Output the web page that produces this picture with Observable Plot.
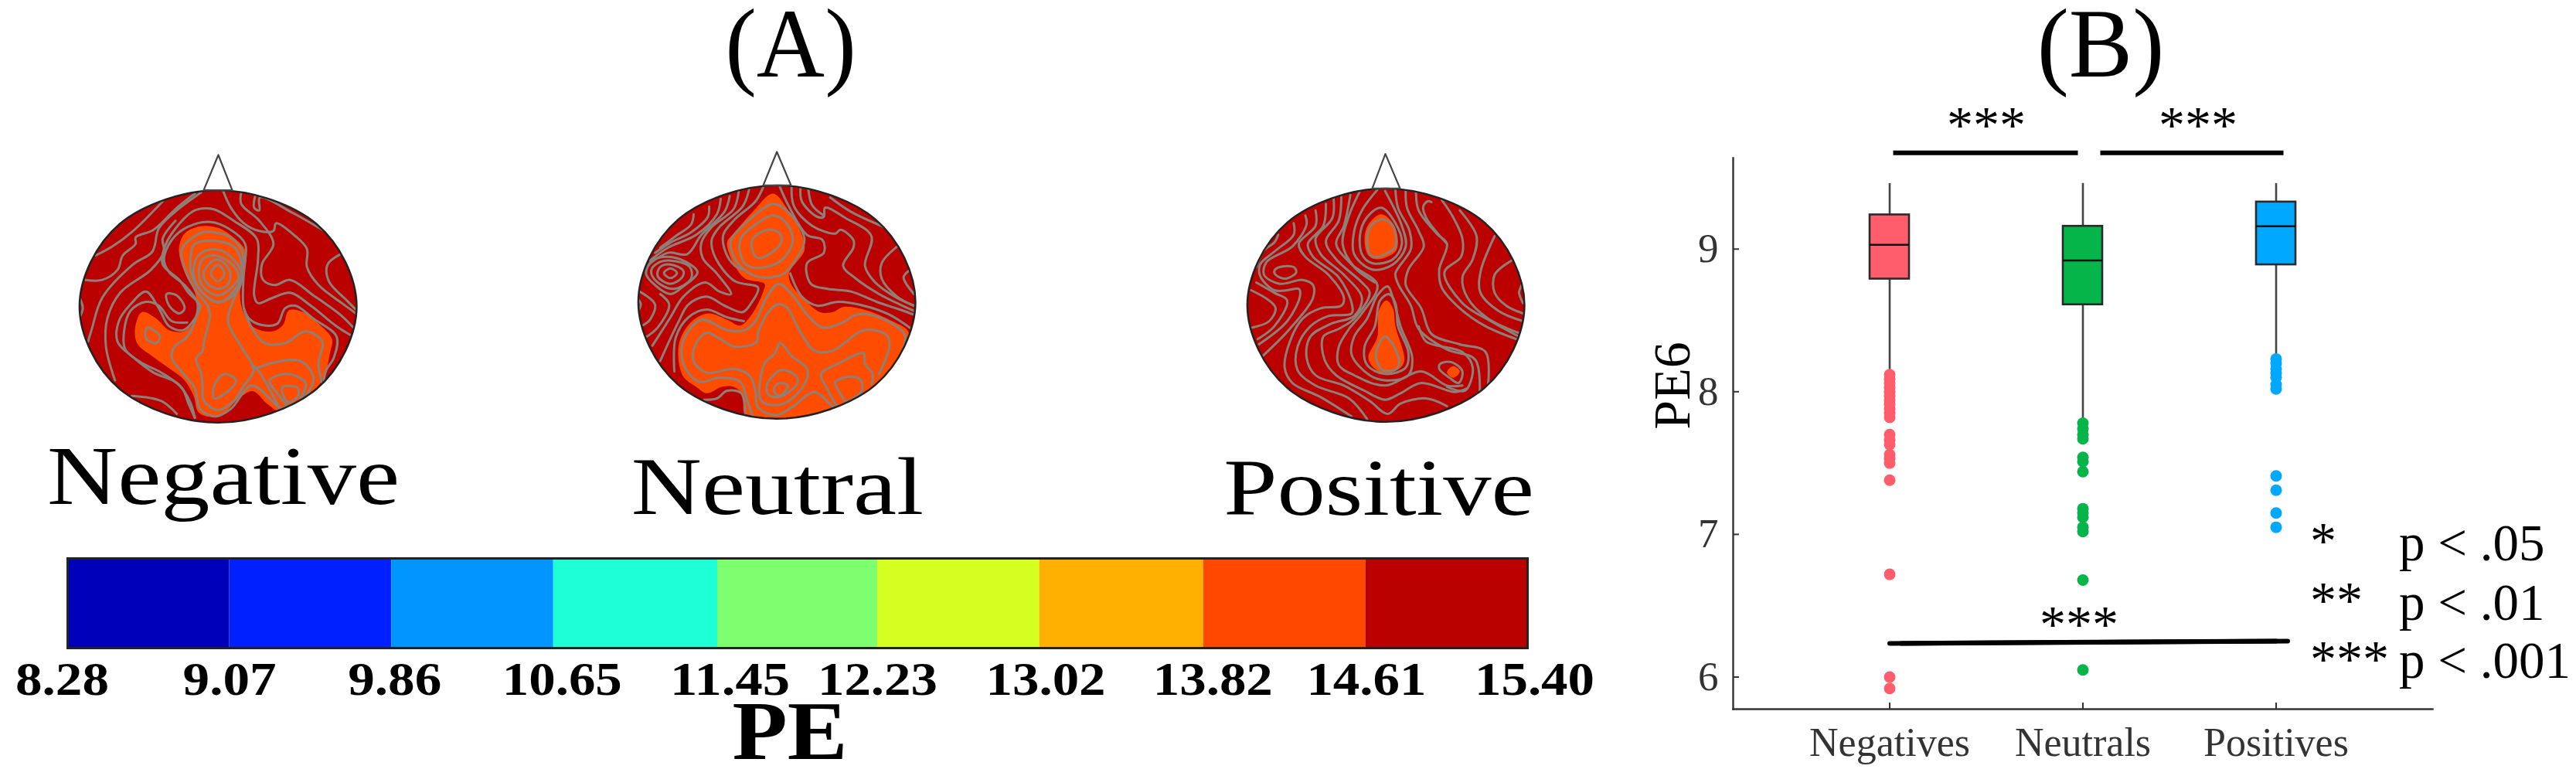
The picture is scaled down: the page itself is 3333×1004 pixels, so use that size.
<!DOCTYPE html>
<html>
<head>
<meta charset="utf-8">
<script src="https://cdn.jsdelivr.net/npm/d3@7"></script>
<script src="https://cdn.jsdelivr.net/npm/@observablehq/plot@0.6"></script>
<style>
html,body{margin:0;padding:0;background:#fff;}
#page{position:relative;width:3333px;height:1004px;overflow:hidden;font-family:"Liberation Serif",serif;color:#000;}
.lab{position:absolute;white-space:nowrap;line-height:0;height:0;}
</style>
</head>
<body>
<div id="page"></div>
<script>
// ---------- Panel B: boxplot values (PE6) ----------
const categories = ["Negatives", "Neutrals", "Positives"];
const boxColors = ["#FF5C6C", "#06B54A", "#00A8FF"];
const whiskerHigh = [9.46, 9.46, 9.46];
const q3 = [9.24, 9.16, 9.33];
const medians = [9.03, 8.92, 9.16];
const q1 = [8.79, 8.61, 8.89];
const whiskerLow = [8.15, 7.8, 8.25];
const negativeOutliers = [8.12, 8.09, 8.06, 8.03, 8.0, 7.97, 7.94, 7.91, 7.88, 7.85, 7.82, 7.7, 7.66, 7.63, 7.56, 7.53, 7.5, 7.38, 6.72, 6.0, 5.92];
const neutralOutliers = [7.78, 7.74, 7.7, 7.67, 7.54, 7.51, 7.44, 7.18, 7.15, 7.12, 7.05, 7.02, 6.68, 6.05];
const positiveOutliers = [8.23, 8.2, 8.16, 8.13, 8.1, 8.05, 8.02, 7.41, 7.31, 7.15, 7.05];
const yTicks = [6, 7, 8, 9];
const bracketNegNeu = 9.675;
const bracketNeuPos = 9.675;
const bracketNegPos = [6.236, 6.252];

// ---------- Panel A: colour bar ----------
const peLabels = ["8.28", "9.07", "9.86", "10.65", "11.45", "12.23", "13.02", "13.82", "14.61", "15.40"];
const peColors = ["#0000BB", "#0020FF", "#0095FF", "#1FFFD6", "#7DFF70", "#D4FF20", "#FFB000", "#FF4800", "#BB0000"];
const peLabelNudge = [-7, 0, 4, 11, 16, 0, 8, 12, 1, 9];

// ---------- Panel A: scalp maps, traced in map units ----------
const scalpRing = [[1,0],[.92,.38],[.71,.71],[.38,.92],[0,1],[-.38,.92],[-.71,.71],[-.92,.38],[-1,0],[-.92,-.38],[-.71,-.71],[-.38,-.92],[0,-1],[.38,-.92],[.71,-.71],[.92,-.38]];

const negOrange = [[490,172],[560,178],[620,215],[665,265],[665,350],[645,430],[660,510],[700,565],[770,580],[812,555],[835,498],[890,505],[950,550],[1002,610],[995,660],[965,770],[880,850],[800,890],[750,860],[695,812],[640,840],[590,890],[540,912],[485,895],[465,830],[430,770],[380,730],[310,680],[245,625],[240,555],[265,505],[320,530],[370,575],[430,578],[480,515],[470,430],[430,350],[408,262],[430,200]];
const negLoops = [
 [[560,322],[585,355],[560,385],[532,355]],
 [[555,300],[605,345],[600,395],[560,415],[515,390],[505,350]],
 [[545,285],[615,320],[640,370],[600,420],[560,440],[505,410],[485,355],[500,300]],
 [[530,262],[590,275],[650,350],[625,420],[560,468],[500,430],[465,360],[480,290]],
 [[470,240],[560,230],[625,255],[655,350],[630,430],[560,465],[490,420],[455,350],[455,280]],
 [[500,195],[540,195],[600,210],[650,260],[655,350],[630,430],[600,515],[600,550],[650,640],[698,730],[660,790],[620,850],[560,885],[505,850],[500,800],[495,745],[475,685],[500,655],[505,620],[528,520],[520,480],[480,430],[440,360],[420,260]],
 [[360,435],[400,440],[430,490],[410,510],[370,480]],
 [[285,565],[335,600],[320,625],[280,605]],
 [[810,795],[870,800],[870,830],[835,855],[810,820]],
 [[545,790],[585,745],[630,770],[600,810],[545,840]]
];
const negLines = [
 [[965,790],[950,700],[965,620],[900,580],[820,625],[740,625],[700,580],[660,490],[660,345],[665,240],[600,180],[530,155],[440,175],[380,225],[350,300],[370,350],[430,400],[480,470],[470,540],[440,600],[390,640],[380,680],[430,750],[470,800],[490,880],[550,910],[610,880],[690,790],[770,850],[800,880]],
 [[1085,600],[1020,560],[920,480],[840,430],[770,450],[715,470],[700,440],[715,300],[710,220],[620,150],[540,105],[470,110],[395,180],[350,260],[345,320],[410,380],[445,430],[490,480],[470,530],[425,575],[370,560],[330,490],[280,425],[220,475],[175,540],[170,620],[230,680],[310,740],[400,780],[450,850],[470,915]],
 [[660,490],[680,530],[730,555],[790,550],[820,490],[860,480],[930,530],[1020,600],[1010,680],[980,730],[970,770]],
 [[580,35],[610,100],[660,160],[720,190],[775,190],[785,160],[860,210],[905,260],[905,330],[950,400],[1040,470],[1095,510]],
 [[650,40],[650,85],[720,150],[775,240],[730,320],[735,380],[780,400],[840,380],[930,440],[1040,520],[1090,570]],
 [[705,50],[700,100],[720,110],[722,60],[850,120],[980,195]],
 [[1035,280],[985,320],[990,385],[1060,460],[1095,495]],
 [[345,75],[230,190],[150,250],[85,285]],
 [[470,45],[400,100],[310,185],[240,215],[240,240],[190,285],[170,340],[110,380],[45,380]],
 [[495,40],[400,110],[330,180],[305,270],[230,320],[110,450],[70,570],[55,620]],
 [[395,150],[345,220],[350,270],[300,340],[180,430],[130,530],[125,640],[160,770]],
 [[440,545],[380,540],[330,480],[280,465],[220,500],[195,580],[200,650],[260,700],[340,740],[420,800],[445,860],[470,915]],
 [[705,725],[780,700],[880,695],[930,760],[890,840],[800,880]],
 [[830,870],[790,820],[760,770],[830,745],[900,780],[880,840]],
 [[695,710],[715,730],[800,880]],
 [[225,830],[340,850],[400,900]],
 [[25,455],[35,490],[25,520]]
];

const neuOrange = [[548,60],[610,130],[660,220],[670,280],[610,370],[620,415],[670,470],[730,520],[780,520],[820,500],[900,510],[1000,550],[1075,600],[1040,690],[960,790],[850,880],[700,925],[560,930],[440,915],[430,840],[395,810],[350,810],[290,835],[250,810],[200,770],[180,690],[190,620],[240,550],[300,525],[370,550],[420,572],[465,530],[510,440],[515,410],[440,390],[400,340],[370,250],[400,210],[470,130]];
const neuLoops = [
 [[530,200],[575,215],[580,250],[540,290],[490,310],[468,280],[470,235]],
 [[550,145],[600,175],[625,240],[590,310],[520,345],[450,340],[420,290],[425,230],[480,180]],
 [[550,100],[600,125],[670,235],[640,310],[590,370],[500,385],[430,350],[390,290],[385,240],[470,150]],
 [[150,350],[175,368],[150,388],[125,368]],
 [[150,335],[200,360],[195,385],[150,410],[100,380],[110,345]],
 [[150,320],[225,345],[230,390],[160,430],[95,400],[75,360],[100,330]],
 [[140,305],[210,325],[255,365],[200,420],[150,450],[90,415],[55,370],[80,320]],
 [[575,640],[620,690],[680,740],[670,800],[600,870],[540,880],[500,860],[515,720],[555,680]],
 [[580,745],[640,770],[640,800],[570,850],[530,840],[525,800]],
 [[575,795],[605,805],[575,845],[553,830],[555,810]]
];
const neuLines = [
 [[240,140],[230,180],[170,225],[110,270]],
 [[300,110],[295,150],[230,210],[150,250],[90,290]],
 [[345,80],[330,140],[250,220],[140,270],[70,320]],
 [[380,70],[360,130],[270,220],[215,295],[140,290],[60,340]],
 [[415,50],[395,120],[310,190],[270,250],[275,310],[330,370],[385,450],[340,440],[285,405],[200,460],[150,540],[80,650]],
 [[455,45],[430,110],[340,190],[310,240],[325,310],[400,400],[490,425],[460,490],[430,520],[360,495],[290,460],[220,490],[180,560],[110,710]],
 [[510,35],[480,90],[400,160],[355,220],[365,290],[400,340],[430,355]],
 [[30,440],[90,490],[70,550],[45,570]],
 [[110,450],[145,490],[100,580],[50,620]],
 [[435,555],[370,540],[290,510],[220,540],[170,620],[165,750]],
 [[1020,770],[1040,700],[1060,610],[960,540],[870,530],[820,560],[740,580],[680,530],[620,450],[570,410],[520,470],[480,555],[440,590],[370,590],[270,550],[200,630],[200,720],[260,790],[340,775],[420,790],[450,870],[470,925]],
 [[960,760],[1000,650],[990,610],[900,590],[780,670],[710,670],[650,590],[600,500],[565,490],[530,520],[490,600],[485,635],[400,655],[345,625],[290,600],[245,650],[240,710],[290,755],[400,740],[460,770],[480,830],[490,890],[560,920],[620,890],[710,830],[780,885],[800,890]],
 [[830,885],[800,885],[760,820],[735,760],[800,720],[900,680],[905,720],[935,760],[930,800]],
 [[830,870],[790,800],[790,790],[850,770],[890,785],[890,830],[830,870]],
 [[575,35],[610,110],[680,220],[740,240],[745,290],[680,330],[695,410],[760,430],[850,440],[950,480],[1040,510],[1095,530]],
 [[620,35],[630,110],[700,185],[790,215],[810,200],[860,240],[860,270],[820,340],[870,390],[960,450],[1040,490],[1095,515]],
 [[655,35],[660,90],[720,150],[745,150],[750,115],[830,155],[930,225],[905,340],[940,400],[1020,460],[1095,495]],
 [[685,40],[700,105],[745,145]],
 [[770,75],[850,130],[980,190]],
 [[1030,265],[970,330],[970,390],[1030,460],[1095,495]],
 [[1095,450],[1055,385],[1075,360]],
 [[280,860],[330,855],[370,825],[425,835],[440,915]],
 [[615,370],[660,460],[720,495],[800,480],[900,495],[1000,530],[1085,585]],
 [[25,470],[35,490],[28,510]]
];

const posOrange = [
 [[545,125],[590,160],[610,230],[600,270],[530,300],[495,285],[480,220],[495,165]],
 [[565,460],[590,490],[600,560],[635,690],[620,720],[560,745],[515,720],[495,680],[530,600],[535,500]],
 [[825,715],[850,735],[825,760],[800,738]]
];
const posLoops = [
 [[550,145],[590,170],[600,250],[570,275],[510,290],[490,240],[505,170]],
 [[560,600],[590,630],[615,700],[605,725],[550,730],[525,680],[535,630]],
 [[150,330],[205,330],[215,350],[175,375],[135,360],[130,345]],
 [[820,700],[860,735],[845,780],[810,760],[770,725],[775,705]],
 [[545,100],[600,160],[625,240],[590,300],[510,315],[470,280],[465,190],[500,125]],
 [[570,405],[590,450],[620,560],[665,680],[650,750],[570,770],[500,750],[430,670],[440,600],[490,530],[530,440]],
 [[575,435],[600,470],[610,560],[650,660],[640,720],[560,745],[490,710],[480,640],[520,560],[540,460]]
];
const posLines = [
 [[530,30],[470,110],[440,190],[440,280],[510,340],[590,320],[640,250],[625,170],[560,35]],
 [[600,30],[610,100],[655,190],[660,260],[600,355],[610,395],[660,480],[690,570],[800,650],[910,690],[925,860]],
 [[640,30],[645,100],[690,190],[710,250],[650,340],[640,400],[700,490],[740,590],[850,630],[950,660],[955,830]],
 [[680,40],[690,110],[760,200],[800,240],[770,340],[780,410],[850,490],[950,560],[1070,610]],
 [[740,78],[725,75],[708,95],[720,140],[800,240]],
 [[780,70],[820,130],[860,220],[855,290],[790,350],[860,470],[970,540],[1080,600]],
 [[850,110],[915,210],[900,300],[860,370],[880,450],[960,530],[1090,590]],
 [[985,210],[930,350],[930,430],[1000,500],[1095,540]],
 [[1050,305],[985,360],[985,430],[1030,480],[1095,510]],
 [[1090,400],[1080,430],[1095,470]],
 [[145,205],[130,235],[90,265],[60,330]],
 [[205,160],[205,205],[130,270],[75,320],[75,365],[130,420],[180,420],[225,415],[230,440],[180,540],[70,630]],
 [[250,130],[255,165],[200,250],[100,310],[90,360],[150,395],[240,380],[280,400],[280,450],[190,570],[80,680]],
 [[290,110],[290,170],[225,240],[250,290],[340,360],[400,450],[390,480],[310,490],[240,530],[190,620],[170,720],[200,780],[310,835],[430,910]],
 [[330,85],[320,170],[260,240],[280,290],[380,370],[430,470],[430,510],[340,520],[270,560],[220,640],[220,730],[290,790],[420,840],[490,920]],
 [[360,65],[355,140],[290,220],[310,280],[400,360],[470,450],[440,520],[350,550],[270,600],[255,680],[290,750],[400,790],[500,850],[570,900],[620,860],[720,840],[800,870]],
 [[390,55],[380,150],[330,230],[370,300],[470,390],[500,430],[440,530],[380,570],[320,600],[325,690],[370,750],[480,810],[560,845],[620,820],[700,780],[830,815],[880,800]],
 [[425,50],[400,170],[370,240],[430,320],[530,400],[470,510],[420,570],[380,640],[380,710],[440,750],[560,790],[700,735],[800,790],[860,790]],
 [[460,40],[420,130],[395,240],[440,330],[520,390]],
 [[690,560],[720,620],[860,660],[900,720],[870,810],[800,795]],
 [[40,420],[110,460],[135,490],[110,540],[45,565]],
 [[60,390],[130,430],[180,460],[130,560],[65,610]]
];

// ---------- text ----------
const page = document.getElementById("page");
const BASE = 0.3375; // Liberation Serif: baseline below a zero line-height box, in em
function label(text, x, baseline, size, opt = {}) {
  const d = document.createElement("div");
  d.className = "lab";
  d.textContent = text;
  d.style.left = x + "px";
  d.style.top = (baseline - BASE * size) + "px";
  d.style.fontSize = size + "px";
  d.style.fontWeight = opt.weight || "normal";
  d.style.color = opt.color || "#000";
  const tx = opt.left ? "0" : "-50%";
  d.style.transform = `translateX(${tx}) scaleX(${opt.sx || 1})`;
  d.style.transformOrigin = opt.left ? "0 0" : "50% 0";
  page.appendChild(d);
}
label("(A)", 1023, 100, 126, {sx: .97});
label("(B)", 2718, 100, 126, {sx: .98});
label("Negative", 289, 652, 108, {sx: 1.17});
label("Neutral", 1006, 666, 106, {sx: 1.19});
label("Positive", 1784, 666, 103, {sx: 1.21});
label("PE", 1022, 983, 109, {weight: "bold", sx: 1.07});
label("***", 2570, 184, 68);
label("***", 2844, 184, 68);
label("***", 2690, 830, 68);
label("*", 2989, 722, 68, {left: true});
label("**", 2989, 799, 68, {left: true});
label("***", 2989, 875, 68, {left: true});
label("p < .05", 3104, 725, 67, {left: true});
label("p < .01", 3104, 802, 67, {left: true});
label("p < .001", 3104, 877, 67, {left: true});

// ---------- scalp maps ----------
const rows = (list) => list.flatMap((c, i) => c.map(([x, y]) => ({x, y, id: i})));
function scalp(left, top, cx, cy, rx, ry, orange, loops, lines, nose) {
  const ring = scalpRing.map(([a, b]) => ({x: cx + rx * a, y: cy + ry * b, id: 0}));
  const svg = Plot.plot({
    width: 375, height: 360,
    margin: 0,
    x: {domain: [0, 1125], axis: null},
    y: {domain: [-120, 960], range: [0, 360], axis: null},
    style: `position:absolute;left:${left}px;top:${top - 40}px;max-width:none;background:transparent;overflow:visible`,
    marks: [
      Plot.line(ring, {x: "x", y: "y", curve: "catmull-rom-closed", fill: "#BB0000", stroke: "none"}),
      Plot.line(rows(orange), {x: "x", y: "y", z: "id", curve: "catmull-rom-closed", fill: "#FF4D00", stroke: "none"}),
      Plot.line(rows(loops), {x: "x", y: "y", z: "id", curve: "catmull-rom-closed", stroke: "#8E8078", strokeWidth: 3, fill: "none"}),
      Plot.line(rows(lines), {x: "x", y: "y", z: "id", curve: "catmull-rom", stroke: "#8E8078", strokeWidth: 3, fill: "none"}),
      Plot.line(ring, {x: "x", y: "y", curve: "catmull-rom-closed", stroke: "#222", strokeWidth: 2.4, fill: "none"}),
      Plot.line(nose, {x: d => d[0], y: d => d[1], stroke: "#444", strokeWidth: 2.2})
    ]
  });
  // keep the traced fields inside the head outline
  const ns = "http://www.w3.org/2000/svg";
  const id = "clip" + left;
  const cp = document.createElementNS(ns, "clipPath"); cp.id = id;
  const el = document.createElementNS(ns, "ellipse");
  el.setAttribute("cx", cx / 3); el.setAttribute("cy", (cy + 120) / 3);
  el.setAttribute("rx", rx / 3); el.setAttribute("ry", ry / 3);
  cp.appendChild(el); svg.appendChild(cp);
  const groups = [...svg.children].filter(n => n.tagName === "g");
  groups.slice(1, 4).forEach(g => g.setAttribute("clip-path", `url(#${id})`));
  page.appendChild(svg);
}
scalp(95, 235, 560, 483, 538, 451, [negOrange], negLoops, negLines, [[504, 32], [561, -105], [615, 32], [504, 32]]);
scalp(817, 230, 563, 481, 538, 453, [neuOrange], neuLoops, neuLines, [[510, 28], [563, -102], [618, 28], [510, 28]]);
scalp(1605, 235, 563, 478, 538, 453, posOrange, posLoops, posLines, [[510, 25], [561, -109], [618, 25], [510, 25]]);

// ---------- colour bar ----------
const peValues = peLabels.map(Number);
const cells = peColors.map((c, i) => ({x1: peValues[i], x2: peValues[i + 1], c}));
const bar = Plot.plot({
  width: 2100, height: 304,
  marginLeft: 87, marginRight: 124, marginTop: 22, marginBottom: 166,
  x: {domain: [8.28, 15.40], axis: null},
  style: `position:absolute;left:0;top:700px;max-width:none;background:transparent;overflow:visible;font-family:'Liberation Serif',serif`,
  marks: [
    Plot.rect(cells, {x1: "x1", x2: "x2", fill: "c"}),
    Plot.frame({stroke: "#222", strokeWidth: 3}),
    ...peLabels.map((l, i) => Plot.text([l], {
      x: d => +d, text: d => d, frameAnchor: "bottom", lineAnchor: "bottom",
      dy: 60, dx: peLabelNudge[i], fontSize: 62, fontWeight: "bold", fill: "#000"
    }))
  ]
});
bar.querySelectorAll("text").forEach(t => {
  t.setAttribute("textLength", t.textContent.length > 4 ? 155 : 121);
  t.setAttribute("lengthAdjust", "spacingAndGlyphs");
});
page.appendChild(bar);

// ---------- Panel B ----------
const boxes = categories.map((cat, i) => ({cat, color: boxColors[i], hi: whiskerHigh[i], q3: q3[i], med: medians[i], q1: q1[i], lo: whiskerLow[i]}));
const outliers = [negativeOutliers, neutralOutliers, positiveOutliers]
  .flatMap((vals, i) => vals.map(v => ({cat: categories[i], v, color: boxColors[i]})));
const frameH = 1004 - 204 - 87;
const frameW = 1283 - 192 - 186;
const negPosLine = [{x: categories[0], y: bracketNegPos[0]}, {x: categories[2], y: bracketNegPos[1]}];
const panelB = Plot.plot({
  width: 1283, height: 1004,
  marginLeft: 192, marginRight: 186, marginTop: 204, marginBottom: 87,
  x: {domain: categories, paddingInner: .796, paddingOuter: .706, align: .5, axis: null},
  y: {domain: [5.775, 9.638], axis: null},
  style: `position:absolute;left:2050px;top:0;max-width:none;background:transparent;overflow:visible;font-family:'Liberation Serif',serif`,
  marks: [
    Plot.frame({anchor: "left", stroke: "#333", strokeWidth: 2.4}),
    Plot.frame({anchor: "bottom", stroke: "#333", strokeWidth: 2.4}),
    Plot.tickY(yTicks, {y: d => d, insetRight: frameW - 8, stroke: "#333", strokeWidth: 2}),
    Plot.tickX(categories, {x: d => d, insetTop: frameH - 8, stroke: "#333", strokeWidth: 2}),
    Plot.axisY({ticks: yTicks, tickSize: 0, tickPadding: 19, fontSize: 53, color: "#333", tickFormat: d => d, label: null}),
    Plot.axisX({tickSize: 0, tickPadding: 24, fontSize: 52, color: "#333", label: null}),
    Plot.text(["PE6"], {frameAnchor: "left", text: d => d, rotate: -90, textAnchor: "middle", lineAnchor: "bottom", fontSize: 68, dx: -57, dy: -62, fill: "#000"}),
    Plot.ruleX(boxes, {x: "cat", y1: "lo", y2: "hi", stroke: "#444", strokeWidth: 2.6}),
    Plot.dot(outliers, {x: "cat", y: "v", r: 7.5, fill: "color", stroke: "none"}),
    Plot.barY(boxes, {x: "cat", y1: "q1", y2: "q3", fill: "color", stroke: "#2a2a2a", strokeWidth: 2.6}),
    Plot.tickY(boxes, {x: "cat", y: "med", stroke: "#111", strokeWidth: 2.6}),
    Plot.ruleY([bracketNegNeu], {y: d => d, x1: () => categories[0], x2: () => categories[1], insetLeft: 30.5, insetRight: 31.5, stroke: "#000", strokeWidth: 6}),
    Plot.ruleY([bracketNeuPos], {y: d => d, x1: () => categories[1], x2: () => categories[2], insetLeft: 48.5, insetRight: 15.5, stroke: "#000", strokeWidth: 6}),
    Plot.line(negPosLine, {x: "x", y: "y", stroke: "#000", strokeWidth: 6}),
    Plot.line(negPosLine, {x: "x", y: "y", stroke: "#000", strokeWidth: 6, dx: 15})
  ]
});
page.appendChild(panelB);
</script>
</body>
</html>
